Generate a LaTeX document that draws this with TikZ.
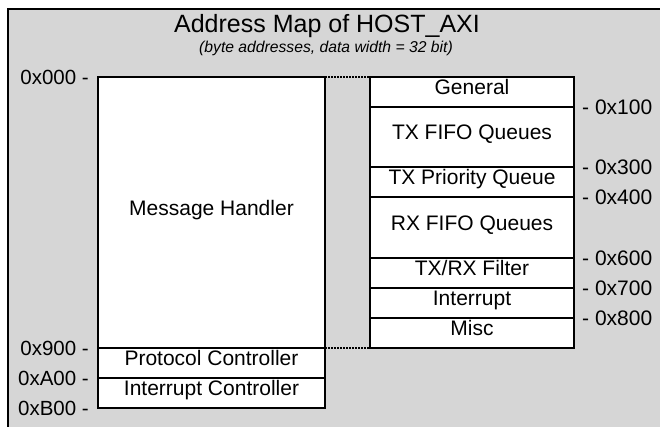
\documentclass[tikz,border=0pt]{standalone}
\usepackage{fontspec}
\setmainfont{Liberation Sans}
\definecolor{framegray}{RGB}{214,214,214}
\tikzset{
  mapbox/.style={draw=black, fill=white, line width=1.4pt, inner sep=0pt, outer sep=0pt,
    anchor=north west, font=\fontsize{21}{25}\selectfont, text height=0.72em, text depth=0.15em},
  addrl/.style={anchor=east, inner sep=0pt, font=\fontsize{20.5}{24}\selectfont},
  addrr/.style={anchor=west, inner sep=0pt, font=\fontsize{21}{25}\selectfont},
  linkline/.style={draw=black, line width=1.6pt, dash pattern=on 1.6pt off 1.4pt},
}
\begin{document}
\begin{tikzpicture}[x=1pt,y=-1pt]
\useasboundingbox (0,0) rectangle (660,427);
\clip (0,0) rectangle (660,427);
\path[draw=black, line width=2pt, fill=framegray] (8,9) rectangle (720,480);
\node[font=\fontsize{25}{30}\selectfont, inner sep=0pt] (title) at (327,26) {Address Map of HOST\_AXI};
\node[font=\fontsize{15.7}{18}\selectfont\itshape, inner sep=0pt] (subtitle) at (326,48) {(byte addresses, data width = 32 bit)};
% left column
\node[mapbox, minimum width=227pt, minimum height=271pt] (mh) at (98,77) {Message Handler};
\node[mapbox, minimum width=227pt, minimum height=30pt] (pc) at (98,348) {Protocol Controller};
\node[mapbox, minimum width=227pt, minimum height=30pt] (ic) at (98,378) {Interrupt Controller};
% right column
\node[mapbox, minimum width=204pt, minimum height=30pt] (gen) at (370,77) {General};
\node[mapbox, minimum width=204pt, minimum height=60pt] (txf) at (370,107) {TX FIFO Queues};
\node[mapbox, minimum width=204pt, minimum height=30pt] (txp) at (370,167) {TX Priority Queue};
\node[mapbox, minimum width=204pt, minimum height=61pt] (rxf) at (370,197) {RX FIFO Queues};
\node[mapbox, minimum width=204pt, minimum height=30pt] (filt) at (370,258) {TX/RX Filter};
\node[mapbox, minimum width=204pt, minimum height=30pt] (intr) at (370,288) {Interrupt};
\node[mapbox, minimum width=204pt, minimum height=30pt] (misc) at (370,318) {Misc};
% dotted links
\path[linkline] (mh.north east) -- (gen.north west);
\path[linkline] (mh.south east) -- (misc.south west);
% left addresses
\node[addrl] (a000) at ([xshift=-9pt]mh.north west) {0x000 -};
\node[addrl] (a900) at ([xshift=-9pt]pc.north west) {0x900 -};
\node[addrl] (aA00) at ([xshift=-9pt]ic.north west) {0xA00 -};
\node[addrl] (aB00) at ([xshift=-9pt]ic.south west) {0xB00 -};
% right addresses
\node[addrr] (a100) at ([xshift=8pt]gen.south east) {- 0x100};
\node[addrr] (a300) at ([xshift=8pt]txf.south east) {- 0x300};
\node[addrr] (a400) at ([xshift=8pt]txp.south east) {- 0x400};
\node[addrr] (a600) at ([xshift=8pt]rxf.south east) {- 0x600};
\node[addrr] (a700) at ([xshift=8pt]filt.south east) {- 0x700};
\node[addrr] (a800) at ([xshift=8pt]intr.south east) {- 0x800};
\end{tikzpicture}
\end{document}
